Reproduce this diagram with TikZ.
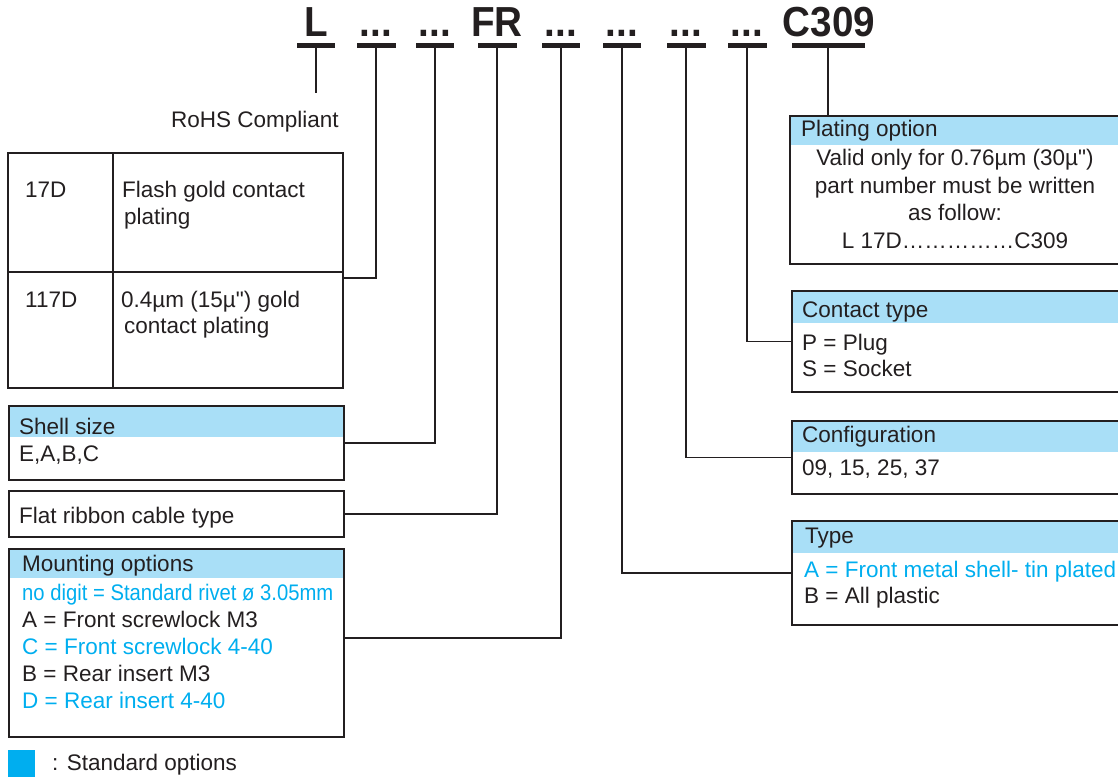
\documentclass[tikz,border=0pt]{standalone}
\usepackage{fontspec}
\setmainfont{Liberation Sans}
\usetikzlibrary{positioning}
\definecolor{headblue}{HTML}{A9DFF7}
\definecolor{optblue}{HTML}{00AEEF}
\definecolor{ink}{HTML}{231F20}
\tikzstyle{part} = [anchor=base, inner sep=0pt, text=ink, font=\bfseries\fontsize{42}{50}\selectfont]
\tikzstyle{bar} = [rectangle, fill=ink, minimum height=5pt, inner sep=0pt]
\tikzstyle{frame} = [rectangle, draw=ink, line width=2pt, anchor=north west, inner sep=0pt]
\tikzstyle{cell} = [frame, outer sep=0pt]
\tikzstyle{head} = [rectangle, fill=headblue, anchor=north west, inner sep=0pt]
\tikzstyle{txt} = [anchor=base west, inner sep=0pt, text=ink, font=\fontsize{22.5}{27}\selectfont]
\tikzstyle{link} = [line width=1.5pt, draw=ink]
\newcommand{\narrow}[1]{\scalebox{0.92}[1]{#1}}

\begin{document}
\begin{tikzpicture}[x=1pt, y=-1pt]
\useasboundingbox (0,0) rectangle (1118,779);

% part number
\node (pL) [part] at (316,36) {\narrow{L}};
\node (pd1) [part] at (376,36) {\narrow{...}};
\node (pd2) [part] at (435,36) {\narrow{...}};
\node (pFR) [part] at (497,36) {\narrow{FR}};
\node (pd3) [part] at (561,36) {\narrow{...}};
\node (pd4) [part] at (622,36) {\narrow{...}};
\node (pd5) [part] at (686,36) {\narrow{...}};
\node (pd6) [part] at (747,36) {\narrow{...}};
\node (pC) [part] at (829,36) {\narrow{C309}};

\node (bL) [bar, minimum width=38pt] at (316,45.5) {};
\node (bd1) [bar, minimum width=39pt] at (376,45.5) {};
\node (bd2) [bar, minimum width=38pt] at (435,45.5) {};
\node (bFR) [bar, minimum width=39pt] at (497,45.5) {};
\node (bd3) [bar, minimum width=38pt] at (561,45.5) {};
\node (bd4) [bar, minimum width=38pt] at (622,45.5) {};
\node (bd5) [bar, minimum width=39pt] at (686,45.5) {};
\node (bd6) [bar, minimum width=39pt] at (747,45.5) {};
\node (bC) [bar, minimum width=73pt] at (828,45.5) {};

% RoHS
\node (rohs) [txt, anchor=base east] at (339,127) {RoHS Compliant};
\coordinate (rohstip) at (316,93);

% plating table
\node (c11) [cell, minimum width=105pt, minimum height=119pt] at (8,153) {};
\node (c12) [cell, minimum width=230pt, minimum height=119pt, right=0pt of c11] {};
\node (c21) [cell, minimum width=105pt, minimum height=116pt, below=0pt of c11] {};
\node (c22) [cell, minimum width=230pt, minimum height=116pt, below=0pt of c12] {};
\node (t11) [txt] at (25,197) {17D};
\node (t12a) [txt] at (122,197) {Flash gold contact};
\node (t12b) [txt] at (124,224) {plating};
\node (t21) [txt] at (25,307) {117D};
\node (t22a) [txt] at (121,307) {0.4µm (15µ\textquotedbl) gold};
\node (t22b) [txt] at (124,333) {contact plating};

% shell size
\node (shellh) [head, minimum width=335pt, minimum height=32pt] at (8,405) {};
\node (shell) [frame, minimum width=335pt, minimum height=74pt] at (8,405) {};
\node (shell1) [txt] at (19,434) {Shell size};
\node (shell2) [txt] at (19,461) {E,A,B,C};

% flat ribbon
\node (flat) [frame, minimum width=335pt, minimum height=46pt] at (8,490) {};
\node (flat1) [txt] at (19,523) {Flat ribbon cable type};

% mounting options
\node (mounth) [head, minimum width=335pt, minimum height=30pt] at (8,548) {};
\node (mount) [frame, minimum width=335pt, minimum height=188pt] at (8,548) {};
\node (mount0) [txt] at (22,571) {Mounting options};
\node (mount1) [txt, text=optblue] at (22,600) {\scalebox{0.9}[1]{no digit = Standard rivet ø 3.05mm}};
\node (mount2) [txt] at ([yshift=-27pt]mount1.base west) {A = Front screwlock M3};
\node (mount3) [txt, text=optblue] at ([yshift=-27pt]mount2.base west) {C = Front screwlock 4-40};
\node (mount4) [txt] at ([yshift=-27pt]mount3.base west) {B = Rear insert M3};
\node (mount5) [txt, text=optblue] at ([yshift=-27pt]mount4.base west) {D = Rear insert 4-40};

% legend
\node (legend) [rectangle, fill=optblue, minimum size=27pt, inner sep=0pt, anchor=north west] at (8,750) {};
\node (legendtxt) [txt] at (52,770) {: Standard options};

% plating option
\node (plath) [head, minimum width=340pt, minimum height=30pt] at (789,115) {};
\node (plat) [frame, minimum width=340pt, minimum height=148pt] at (789,115) {};
\node (plat0) [txt] at (801,136) {Plating option};
\node (plat1) [txt, anchor=base] at (955,165) {Valid only for 0.76µm (30µ\textquotedbl)};
\node (plat2) [txt, anchor=base] at (955,193) {part number must be written};
\node (plat3) [txt, anchor=base] at (955,220) {as follow:};
\node (plat4) [txt, anchor=base] at (955,248) {L 17D……………C309};

% contact type
\node (conth) [head, minimum width=340pt, minimum height=33pt] at (791,290) {};
\node (cont) [frame, minimum width=340pt, minimum height=101pt] at (791,290) {};
\node (cont0) [txt] at (802,317) {Contact type};
\node (cont1) [txt] at (802,350) {P = Plug};
\node (cont2) [txt] at (802,376) {S = Socket};

% configuration
\node (confh) [head, minimum width=340pt, minimum height=32pt] at (791,420) {};
\node (conf) [frame, minimum width=340pt, minimum height=73pt] at (791,420) {};
\node (conf0) [txt] at (802,442) {Configuration};
\node (conf1) [txt] at (802,475) {09, 15, 25, 37};

% type
\node (typeh) [head, minimum width=340pt, minimum height=33pt] at (791,520) {};
\node (type) [frame, minimum width=340pt, minimum height=104pt] at (791,520) {};
\node (type0) [txt] at (805,543) {Type};
\node (type1) [txt, text=optblue] at (804,577) {A = Front metal shell- tin plated};
\node (type2) [txt] at (804,603) {B = All plastic};

% connectors
\draw [link] (bL.south) -- (rohstip);
\draw [link] (bd1.south) |- ([yshift=-6pt]c22.north east);
\draw [link] (bd2.south) |- (shell.east);
\draw [link] (bFR.south) |- (flat.east);
\draw [link] (bd3.south) |- ([yshift=5pt]mount.east);
\draw [link] (bd4.south) |- (type.west);
\draw [link] (bd5.south) |- (conf.west);
\draw [link] (bd6.south) |- (cont.west);
\draw [link] (bC.south) -- (plat.north -| bC.south);
\end{tikzpicture}
\end{document}
